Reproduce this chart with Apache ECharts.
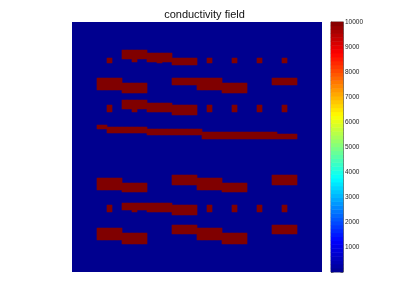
<!DOCTYPE html>
<html>
<head>
<meta charset="utf-8">
<script src="https://cdn.jsdelivr.net/npm/echarts@6/dist/echarts.min.js"></script>
<style>html,body{margin:0;padding:0;background:#fff}#c{width:409px;height:306px}</style>
</head>
<body>
<div id="c"></div>
<script>
// Field grid: 50 columns x 250 rows (row 0 at top)
const fieldCols = 50;
const fieldRows = 250;
const lowK = 0;
const highK = 10000;
// High-conductivity blocks: [colStart, colEnd(excl), rowStart, rowEnd(excl)]
const band1 = [[7,8,36,41],[10,15,28,37],[12,13,37,40],[15,20,31,40],[17,18,36,41],[20,25,36,43],[27,28,36,41],[32,33,36,41],[37,38,36,41],[42,43,36,41]];
const band2 = [[5,10,56,68],[10,15,61,71],[20,25,56,63],[25,30,56,68],[30,35,61,71],[40,45,56,63]];
const band3 = [[7,8,83,90],[10,15,78,87],[12,13,87,90],[15,20,81,90],[20,25,83,93],[27,28,83,90],[32,33,83,90],[37,38,83,90],[42,43,83,90]];
const band4 = [[5,7,103,107],[7,15,105,111],[15,26,107,113],[26,41,110,117],[41,45,112,117]];
const band5 = [[5,10,156,168],[10,15,161,170],[20,25,153,163],[25,30,156,168],[30,35,161,170],[40,45,153,163]];
const band6 = [[7,8,183,190],[10,15,181,188],[12,13,188,190],[15,20,181,190],[20,25,183,193],[27,28,183,190],[32,33,183,190],[37,38,183,190],[42,43,183,190]];
const band7 = [[5,10,206,218],[10,15,211,222],[20,25,203,212],[25,30,206,218],[30,35,211,222],[40,45,203,212]];
const colorbarTicks = [1000,2000,3000,4000,5000,6000,7000,8000,9000,10000];
const colorbarLevels = 64;

const xCats = Array.from({length: fieldCols}, (_, i) => i);
const yCats = Array.from({length: fieldRows}, (_, i) => i);
const fieldData = [];
[band1, band2, band3, band4, band5, band6, band7].forEach(band => {
  band.forEach(([c0, c1, r0, r1]) => {
    for (let c = c0; c < c1; c++) for (let r = r0; r < r1; r++) fieldData.push([c, r, highK]);
  });
});
const cbCats = Array.from({length: colorbarLevels}, (_, i) => i);
const cbData = cbCats.map(i => [0, i, (i + 0.5) * (highK - lowK) / colorbarLevels + lowK]);

const jet = ['#00008F','#0000FF','#0080FF','#00FFFF','#80FF80','#FFFF00','#FF8000','#FF0000','#800000'];
const chart = echarts.init(document.getElementById('c'), null, {renderer: 'canvas'});
chart.setOption({
  animation: false,
  backgroundColor: '#fff',
  title: {
    text: 'conductivity field', left: 'center', top: 4,
    textStyle: {fontFamily: 'Liberation Sans, Arial, sans-serif', fontSize: 11, fontWeight: 'normal', color: '#111'}
  },
  visualMap: {
    show: false, type: 'continuous', min: lowK, max: highK, dimension: 2,
    seriesIndex: [0, 1], inRange: {color: jet}
  },
  grid: [
    {left: 72, top: 22, width: 250, height: 250, show: true, backgroundColor: '#00008F', borderWidth: 0},
    {left: 331, top: 22, width: 12, height: 250, show: true, borderColor: '#333', borderWidth: 0.6}
  ],
  xAxis: [
    {type: 'category', data: xCats, gridIndex: 0, show: false},
    {type: 'category', data: ['cb'], gridIndex: 1, show: false}
  ],
  yAxis: [
    {type: 'category', data: yCats, gridIndex: 0, inverse: true, show: false},
    {type: 'category', data: cbCats, gridIndex: 1, show: false},
    {type: 'value', gridIndex: 1, position: 'right', min: 0, max: highK, interval: 1000,
      axisLine: {show: true, lineStyle: {color: '#333', width: 0.6}},
      axisTick: {show: true, inside: true, length: 2.5, lineStyle: {color: '#333', width: 0.6}},
      splitLine: {show: false},
      axisLabel: {margin: 2, fontSize: 6.5, color: '#222', fontFamily: 'Liberation Sans, Arial, sans-serif',
        formatter: v => colorbarTicks.includes(v) ? String(v) : ''}},
    {type: 'value', gridIndex: 1, position: 'left', min: 0, max: highK, interval: 1000,
      axisLine: {show: true, lineStyle: {color: '#333', width: 0.6}},
      axisTick: {show: true, inside: true, length: 2.5, lineStyle: {color: '#333', width: 0.6}},
      splitLine: {show: false}, axisLabel: {show: false}}
  ],
  series: [
    {type: 'heatmap', xAxisIndex: 0, yAxisIndex: 0, data: fieldData, progressive: 0, itemStyle: {borderWidth: 0}, emphasis: {disabled: true}},
    {type: 'heatmap', xAxisIndex: 1, yAxisIndex: 1, data: cbData, progressive: 0, itemStyle: {borderWidth: 0}, emphasis: {disabled: true}}
  ]
});
</script>
</body>
</html>
